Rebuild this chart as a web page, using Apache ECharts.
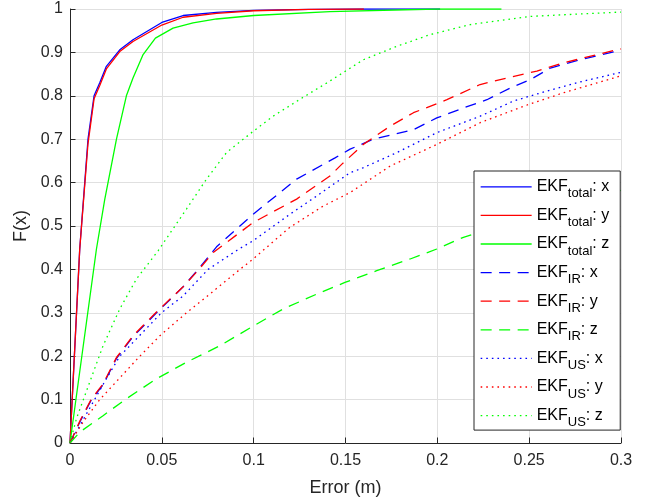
<!DOCTYPE html>
<html>
<head>
<meta charset="utf-8">
<script src="https://cdn.jsdelivr.net/npm/echarts@6/dist/echarts.min.js"></script>
<style>
  html, body { margin: 0; padding: 0; background: #ffffff; }
  #chart { width: 652px; height: 502px; }
</style>
</head>
<body>
<div id="chart"></div>
<script>
// Axis ticks
const xTickLabels = ['0', '0.05', '0.1', '0.15', '0.2', '0.25', '0.3'];
const yTickLabels = ['0', '0.1', '0.2', '0.3', '0.4', '0.5', '0.6', '0.7', '0.8', '0.9', '1'];

// Empirical CDFs of the position error (m) per filter and axis
const totalXErr = [0, 0.0053, 0.0098, 0.0131, 0.0162, 0.0198, 0.0271, 0.0343, 0.05, 0.0616, 0.0798, 0.1, 0.13, 0.16, 0.2015];
const totalXCdf = [0, 0.447, 0.70, 0.80, 0.83, 0.868, 0.906, 0.929, 0.969, 0.985, 0.992, 0.997, 0.999, 1.0, 1.0];

const totalYErr = [0, 0.0053, 0.0098, 0.0131, 0.0162, 0.0198, 0.0271, 0.0343, 0.05, 0.0616, 0.0798, 0.1, 0.13, 0.16];
const totalYCdf = [0, 0.447, 0.69, 0.793, 0.824, 0.862, 0.902, 0.925, 0.963, 0.981, 0.99, 0.996, 0.999, 1.0];

const totalZErr = [0, 0.0144, 0.0189, 0.0253, 0.0307, 0.0343, 0.0398, 0.0465, 0.0561, 0.067, 0.0798, 0.1, 0.1415, 0.2, 0.2349];
const totalZCdf = [0, 0.447, 0.561, 0.70, 0.80, 0.841, 0.895, 0.933, 0.956, 0.968, 0.977, 0.985, 0.994, 1.0, 1.0];

const irXErr = [0, 0.0053, 0.0117, 0.018, 0.0253, 0.0343, 0.0471, 0.0616, 0.0698, 0.0798, 0.0997, 0.1234, 0.1443, 0.1525, 0.1651, 0.187, 0.1997, 0.2142, 0.227, 0.2397, 0.2506, 0.2615, 0.2778, 0.3];
const irXCdf = [0, 0.048, 0.1, 0.134, 0.195, 0.245, 0.3, 0.36, 0.4, 0.452, 0.527, 0.608, 0.657, 0.677, 0.70, 0.722, 0.749, 0.772, 0.791, 0.818, 0.837, 0.864, 0.883, 0.905];

const irYErr = [0, 0.0053, 0.0117, 0.018, 0.0253, 0.0343, 0.0471, 0.0616, 0.0698, 0.078, 0.0997, 0.1234, 0.1415, 0.1479, 0.1597, 0.1743, 0.187, 0.2052, 0.2233, 0.2379, 0.2542, 0.2687, 0.2978, 0.3];
const irYCdf = [0, 0.05, 0.102, 0.136, 0.197, 0.247, 0.302, 0.36, 0.398, 0.439, 0.508, 0.562, 0.615, 0.642, 0.688, 0.730, 0.761, 0.791, 0.826, 0.841, 0.857, 0.876, 0.906, 0.908];

const irZErr = [0, 0.0053, 0.018, 0.0307, 0.0471, 0.0634, 0.0816, 0.1, 0.1161, 0.1343, 0.1497, 0.167, 0.1852, 0.1997, 0.2142, 0.2197, 0.23, 0.24, 0.25, 0.26, 0.27, 0.28, 0.29, 0.3];
const irZCdf = [0, 0.025, 0.063, 0.102, 0.148, 0.186, 0.224, 0.27, 0.309, 0.343, 0.37, 0.397, 0.424, 0.447, 0.474, 0.481, 0.495, 0.509, 0.522, 0.535, 0.547, 0.559, 0.571, 0.582];

const usXErr = [0, 0.0198, 0.0271, 0.0498, 0.0616, 0.0752, 0.092, 0.0997, 0.1197, 0.1343, 0.1525, 0.1579, 0.1779, 0.1997, 0.2233, 0.2415, 0.2597, 0.2796, 0.3];
const usXCdf = [0, 0.148, 0.2, 0.3, 0.339, 0.4, 0.447, 0.466, 0.527, 0.569, 0.623, 0.631, 0.669, 0.715, 0.753, 0.788, 0.811, 0.834, 0.854];

const usYErr = [0, 0.0071, 0.0162, 0.038, 0.0489, 0.0634, 0.0752, 0.0925, 0.0997, 0.1197, 0.1379, 0.1525, 0.1743, 0.1997, 0.2233, 0.247, 0.2687, 0.3];
const usYCdf = [0, 0.048, 0.1, 0.2, 0.247, 0.3, 0.34, 0.4, 0.424, 0.497, 0.546, 0.577, 0.638, 0.688, 0.738, 0.776, 0.807, 0.846];

const usZErr = [0, 0.0035, 0.0107, 0.018, 0.0271, 0.0362, 0.048, 0.0634, 0.0743, 0.0852, 0.1, 0.1106, 0.1252, 0.1415, 0.1597, 0.1779, 0.1961, 0.2179, 0.2506, 0.3];
const usZCdf = [0, 0.056, 0.14, 0.224, 0.309, 0.378, 0.443, 0.539, 0.608, 0.669, 0.719, 0.753, 0.792, 0.834, 0.883, 0.914, 0.941, 0.964, 0.983, 0.993];

const seriesNames = [
  'EKF_total: x', 'EKF_total: y', 'EKF_total: z',
  'EKF_IR: x', 'EKF_IR: y', 'EKF_IR: z',
  'EKF_US: x', 'EKF_US: y', 'EKF_US: z'
];

const BLUE = '#0000ff', RED = '#ff0000', GREEN = '#00ff00';
const INK = '#262626';
const FONT = '"Liberation Sans", Arial, Helvetica, sans-serif';
const SOLID = 'solid';
const DASHED = [11, 7.5];
const DOTTED = [1.6, 4];

function pairs(xs, ys) {
  return xs.map((x, i) => [x, ys[i]]);
}

const curves = [
  [totalXErr, totalXCdf, BLUE, SOLID],
  [totalYErr, totalYCdf, RED, SOLID],
  [totalZErr, totalZCdf, GREEN, SOLID],
  [irXErr, irXCdf, BLUE, DASHED],
  [irYErr, irYCdf, RED, DASHED],
  [irZErr, irZCdf, GREEN, DASHED],
  [usXErr, usXCdf, BLUE, DOTTED],
  [usYErr, usYCdf, RED, DOTTED],
  [usZErr, usZCdf, GREEN, DOTTED]
];

const series = curves.map((c, i) => ({
  name: seriesNames[i],
  type: 'line',
  data: pairs(c[0], c[1]),
  showSymbol: false,
  symbol: 'none',
  smooth: false,
  animation: false,
  lineStyle: { color: c[2], width: 1.3, type: c[3], cap: 'butt' },
  itemStyle: { color: c[2] },
  emphasis: { disabled: true }
}));

const chart = echarts.init(document.getElementById('chart'), null, { renderer: 'canvas' });

chart.setOption({
  backgroundColor: '#ffffff',
  animation: false,
  grid: { left: 70, right: 31, top: 9, bottom: 58, containLabel: false },
  xAxis: {
    type: 'value',
    min: 0, max: 0.3, interval: 0.05,
    name: 'Error (m)',
    nameLocation: 'middle',
    nameGap: 36,
    nameTextStyle: { color: INK, fontSize: 18, fontFamily: FONT },
    axisLine: { show: true, onZero: false, lineStyle: { color: INK, width: 1 } },
    axisTick: { show: true, inside: true, length: 5.5, lineStyle: { color: INK, width: 1 } },
    axisLabel: {
      color: INK, fontSize: 16, fontFamily: FONT, margin: 10,
      formatter: (v) => xTickLabels[Math.round(v / 0.05)]
    },
    splitLine: { show: true, lineStyle: { color: '#e0e0e0', width: 1 } }
  },
  yAxis: {
    type: 'value',
    min: 0, max: 1, interval: 0.1,
    name: 'F(x)',
    nameLocation: 'middle',
    nameGap: 34,
    nameRotate: 90,
    nameTextStyle: { color: INK, fontSize: 18, fontFamily: FONT },
    axisLine: { show: true, onZero: false, lineStyle: { color: INK, width: 1 } },
    axisTick: { show: true, inside: true, length: 5.5, lineStyle: { color: INK, width: 1 } },
    axisLabel: {
      color: INK, fontSize: 16, fontFamily: FONT, margin: 7,
      formatter: (v) => yTickLabels[Math.round(v / 0.1)]
    },
    splitLine: { show: true, lineStyle: { color: '#e0e0e0', width: 1 } }
  },
  legend: {
    orient: 'vertical',
    left: 474,
    top: 171,
    data: seriesNames,
    itemWidth: 51,
    itemHeight: 27,
    itemGap: 4.3,
    padding: [5, 11, 1, 6],
    backgroundColor: '#ffffff',
    borderColor: INK,
    borderWidth: 1,
    borderRadius: 0,
    selectedMode: false,
    lineStyle: { width: 1.3 },
    // line samples only, no marker on them
    itemStyle: { color: 'rgba(0,0,0,0)', borderWidth: 0, opacity: 0 },
    formatter: (name) => {
      const m = name.match(/^EKF_(\w+): (\w)$/);
      return '{m|EKF}{s|' + m[1] + '}{m|: ' + m[2] + '}';
    },
    textStyle: {
      color: '#000000',
      fontFamily: FONT,
      fontSize: 16,
      rich: {
        m: { fontSize: 16, fontFamily: FONT, color: '#000000' },
        s: { fontSize: 13, fontFamily: FONT, color: '#000000', padding: [14, 0, 0, 0] }
      }
    }
  },
  series: series
});
</script>
</body>
</html>
